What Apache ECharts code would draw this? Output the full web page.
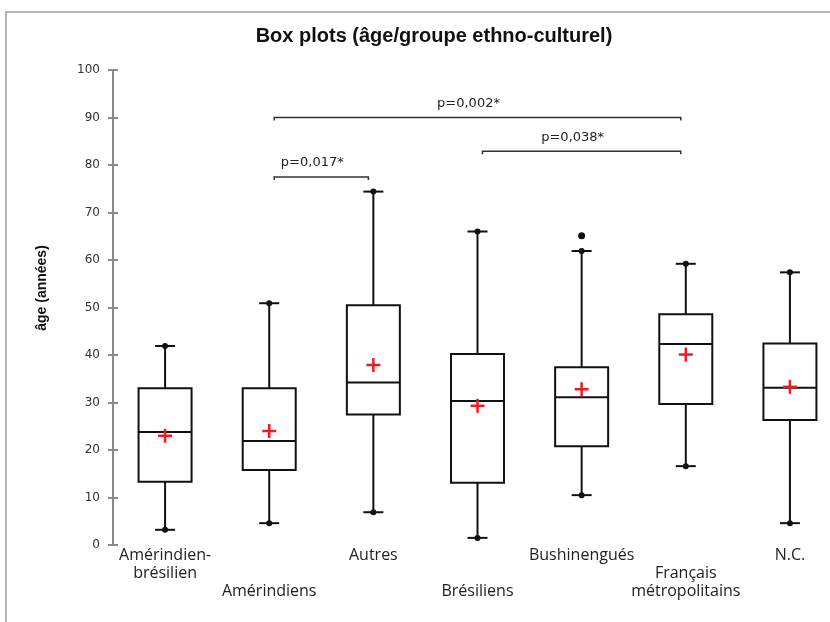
<!DOCTYPE html>
<html><head><meta charset="utf-8">
<script src="https://cdn.jsdelivr.net/npm/echarts@6/dist/echarts.min.js"></script>
<style>html,body{margin:0;padding:0;background:#fff}#c{width:830px;height:622px}</style>
</head><body><div id="c"></div>
<script>
// ---- data ----
const categories = ['Amérindien-brésilien','Amérindiens','Autres','Brésiliens','Bushinengués','Français métropolitains','N.C.'];
const axisLabels = ['Amérindien-\nbrésilien','\n\nAmérindiens','Autres','\n\nBrésiliens','Bushinengués','\nFrançais\nmétropolitains','N.C.'];
const whiskerLow  = [3.2, 4.6, 6.9, 1.5, 10.5, 16.6, 4.6];
const q1          = [13.3, 15.8, 27.5, 13.1, 20.8, 29.7, 26.3];
const median      = [23.8, 21.9, 34.2, 30.3, 31.1, 42.3, 33.1];
const q3          = [33.0, 33.0, 50.5, 40.2, 37.4, 48.6, 42.4];
const whiskerHigh = [41.9, 50.9, 74.4, 66.0, 61.9, 59.2, 57.4];
const mean        = [23.0, 24.0, 37.9, 29.3, 32.8, 40.1, 33.3];
const outlierCat  = [4];
const outlierVal  = [65.1];
const sigFrom   = [1, 3, 1];
const sigTo     = [5, 5, 2];
const sigLevel  = [90.0, 82.9, 77.5];
const sigLabels = ['p=0,002*', 'p=0,038*', 'p=0,017*'];
const yMin = 0, yMax = 100, yStep = 10;
const titleText = 'Box plots (âge/groupe ethno-culturel)';
const yTitle = 'âge (années)';

// ---- chart ----
const chart = echarts.init(document.getElementById('c'), null, {renderer: 'canvas'});
const boxData = categories.map((c, i) => [i, whiskerLow[i], q1[i], median[i], q3[i], whiskerHigh[i], mean[i]]);
const sigData = sigFrom.map((f, i) => [f, sigTo[i], sigLevel[i]]);
const outData = outlierCat.map((c, i) => [c, outlierVal[i]]);

function renderBox(params, api) {
  const i = api.value(0);
  const x = api.coord([i, 0])[0];
  const yLo = api.coord([i, api.value(1)])[1];
  const yQ1 = api.coord([i, api.value(2)])[1];
  const yMed = api.coord([i, api.value(3)])[1];
  const yQ3 = api.coord([i, api.value(4)])[1];
  const yHi = api.coord([i, api.value(5)])[1];
  const yMean = api.coord([i, api.value(6)])[1];
  const hw = 26.5, cap = 10, pl = 7;
  const ln = {stroke: '#111', lineWidth: 2};
  const red = {stroke: '#ec1c24', lineWidth: 2.5};
  return {type: 'group', children: [
    {type: 'line', shape: {x1: x, y1: yQ3, x2: x, y2: yHi}, style: ln},
    {type: 'line', shape: {x1: x, y1: yQ1, x2: x, y2: yLo}, style: ln},
    {type: 'line', shape: {x1: x - cap, y1: yHi, x2: x + cap, y2: yHi}, style: ln},
    {type: 'line', shape: {x1: x - cap, y1: yLo, x2: x + cap, y2: yLo}, style: ln},
    {type: 'circle', shape: {cx: x, cy: yHi, r: 3}, style: {fill: '#111'}},
    {type: 'circle', shape: {cx: x, cy: yLo, r: 3}, style: {fill: '#111'}},
    {type: 'rect', shape: {x: x - hw, y: yQ3, width: 2 * hw, height: yQ1 - yQ3}, style: {stroke: '#111', lineWidth: 2, fill: '#fff'}},
    {type: 'line', shape: {x1: x - hw, y1: yMed, x2: x + hw, y2: yMed}, style: ln},
    {type: 'line', shape: {x1: x - pl, y1: yMean, x2: x + pl, y2: yMean}, style: red},
    {type: 'line', shape: {x1: x, y1: yMean - pl, x2: x, y2: yMean + pl}, style: red}
  ]};
}

function renderSig(params, api) {
  const a = api.coord([api.value(0), api.value(2)]);
  const b = api.coord([api.value(1), api.value(2)]);
  const x1 = a[0] + 5, x2 = b[0] - 5, y = a[1];
  return {type: 'group', children: [
    {type: 'polyline', shape: {points: [[x1, y + 3], [x1, y], [x2, y], [x2, y + 3]]}, style: {stroke: '#333', lineWidth: 1.5, fill: null}},
    {type: 'text', x: (x1 + x2) / 2 - 9, y: y - 14, style: {text: sigLabels[params.dataIndex], textAlign: 'center', textVerticalAlign: 'middle', font: '13px "DejaVu Sans"', fill: '#222'}}
  ]};
}

const option = {
  animation: false,
  backgroundColor: '#fff',
  title: {text: titleText, left: 429, top: 21, textAlign: 'center',
    textStyle: {fontFamily: 'Liberation Sans', fontWeight: 'bold', fontSize: 20, color: '#111'}},
  graphic: [
    {type: 'rect', z: -10, shape: {x: 6, y: 12, width: 900, height: 700}, style: {stroke: '#b4b4b4', lineWidth: 2, fill: null}},
    {type: 'text', x: 42, y: 288, rotation: Math.PI / 2,
      style: {text: yTitle, textAlign: 'center', textVerticalAlign: 'middle', font: 'bold 14px "Liberation Sans"', fill: '#111'}}
  ],
  grid: {left: 113, top: 70, width: 729, height: 475, outerBoundsMode: 'none', containLabel: false},
  xAxis: {type: 'category', data: categories,
    axisLine: {show: false}, axisTick: {show: false}, splitLine: {show: false},
    axisLabel: {interval: 0, margin: 1, fontFamily: 'Open Sans', fontSize: 16, lineHeight: 18, color: '#222',
      formatter: (v, i) => axisLabels[i]}},
  yAxis: [
    {type: 'value', min: yMin, max: yMax, interval: yStep, position: 'left',
      axisLine: {show: true, lineStyle: {color: '#8a8a8a', width: 2}},
      axisTick: {show: true, inside: false, length: 5, lineStyle: {color: '#8a8a8a', width: 2}},
      splitLine: {show: false},
      axisLabel: {margin: 13, fontFamily: 'DejaVu Sans', fontSize: 12, color: '#333'}},
    {type: 'value', min: yMin, max: yMax, interval: yStep, position: 'left',
      axisLine: {show: true, lineStyle: {color: '#8a8a8a', width: 2}},
      axisTick: {show: true, inside: true, length: 5, lineStyle: {color: '#8a8a8a', width: 2}},
      splitLine: {show: false}, axisLabel: {show: false}}
  ],
  series: [
    {type: 'custom', name: 'box', renderItem: renderBox, data: boxData, encode: {x: 0, y: [1, 2, 3, 4, 5, 6]}, z: 5},
    {type: 'scatter', name: 'outliers', data: outData, symbol: 'circle', symbolSize: 7, itemStyle: {color: '#111', opacity: 1}, z: 6},
    {type: 'custom', name: 'sig', renderItem: renderSig, data: sigData, encode: {x: [0, 1], y: 2}, z: 4}
  ]
};
chart.setOption(option);
</script>
</body></html>
